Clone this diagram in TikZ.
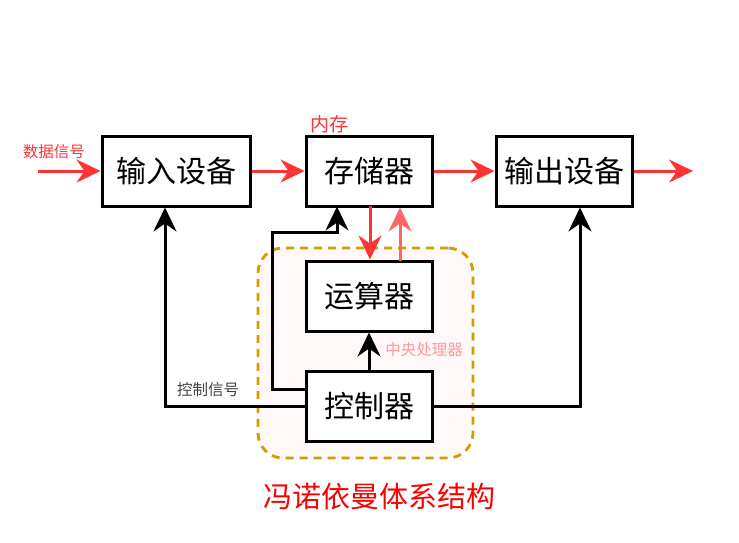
\documentclass[tikz,border=0pt]{standalone}
\usepackage{fontspec}
\setmainfont{Noto Sans CJK SC}
\usetikzlibrary{arrows.meta}
\definecolor{ared}{HTML}{FF3333}
\definecolor{lred}{HTML}{FF6666}
\definecolor{pinklab}{HTML}{FF9999}
\definecolor{cpuorange}{HTML}{D79B00}
\definecolor{cpufill}{HTML}{FFF8F8}
\tikzset{
  unit/.style={draw=black, line width=3pt, fill=white, minimum width=126pt, minimum height=70pt, inner sep=0pt, font=\fontsize{30}{32}\selectfont},
  wunit/.style={unit, minimum width=148pt},
  ounit/.style={unit, minimum width=136pt},
  arr/.style={line width=3pt, -{Stealth[length=24pt, width=23pt, inset=8pt]}},
  redarr/.style={arr, draw=ared, color=ared},
  lredarr/.style={arr, draw=lred, color=lred},
  blkarr/.style={arr, draw=black},
  lab/.style={inner sep=0pt, font=\fontsize{15.5}{17}\selectfont}
}
\begin{document}
\begin{tikzpicture}[x=1pt,y=-1pt]
\useasboundingbox (0,0) rectangle (739,543);
% CPU region
\node[draw=cpuorange, dash pattern=on 8pt off 6pt, line width=2.8pt, fill=cpufill, rounded corners=25pt, minimum width=215pt, minimum height=210pt, inner sep=0pt] (cpu) at (365.5,353) {};
% units
\node[wunit] (in) at (176,171.5) {输入设备};
\node[unit] (mem) at (369,171) {存储器};
\node[ounit] (out) at (564,171.5) {输出设备};
\node[unit] (alu) at (369,296) {运算器};
\node[unit] (ctl) at (369,406.5) {控制器};
% free ends
\coordinate (src) at (38,171);
\coordinate (dst) at (693,171);
% data flow
\draw[redarr] (src) -- (in.west |- src);
\draw[redarr] (in.east |- src) -- (mem.west |- src);
\draw[redarr] (mem.east |- src) -- (out.west |- src);
\draw[redarr] (out.east |- src) -- (dst);
\draw[redarr] (370,206) coordinate (m1) -- (m1 |- alu.north);
\draw[lredarr] (400,261) coordinate (m2) -- (m2 |- mem.south);
% control
\draw[blkarr] (ctl.north) -- (alu.south);
\draw[blkarr] (ctl.west |- 0,389) -- (272,389) -- (272,232) -- (337,232) -- (337,206.5);
\draw[blkarr] (ctl.west |- 0,406) -- (165,406) -- (165,207.5);
\draw[blkarr] (ctl.east |- 0,406) -- (580,406) -- (580,207.5);
% labels
\node[lab, text=ared] (dsig) at (54,152) {数据信号};
\node[lab, text=ared, font=\fontsize{19}{21}\selectfont] (neicun) at (329,124) {内存};
\node[lab, text=pinklab] (cpul) at (424,350) {中央处理器};
\node[lab, text=black!75] (csig) at (208,390) {控制信号};
\node[inner sep=0pt, text=red, font=\fontsize{29}{31}\selectfont] (title) at (379,497) {冯诺依曼体系结构};
\end{tikzpicture}
\end{document}
